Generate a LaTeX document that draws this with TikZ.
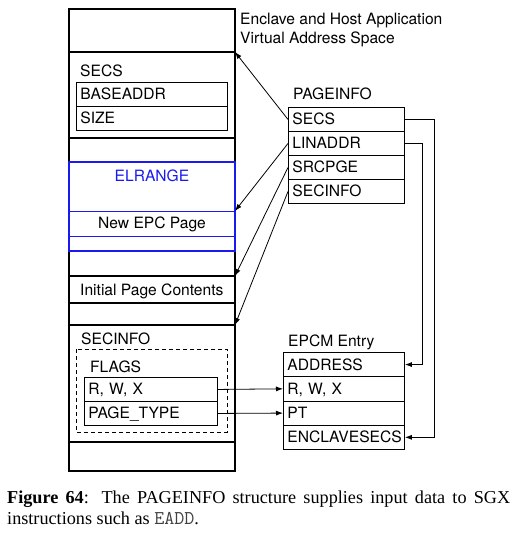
\documentclass[tikz,border=0pt]{standalone}
\usepackage{fontspec}
\setmainfont{Liberation Serif}
\newfontfamily\hv{TeX Gyre Heros}
\usetikzlibrary{arrows.meta}
\definecolor{elblue}{RGB}{25,25,240}
\begin{document}
\begin{tikzpicture}[x=1pt,y=-1pt,
  font=\hv\fontsize{15.6}{18}\selectfont,
  lbl/.style={inner sep=0pt, anchor=base west},
  cell/.style={draw, line width=0.9pt, rectangle, anchor=north west,
    inner xsep=4pt, inner ysep=0pt, text height=11pt, text depth=0pt, align=left},
  col/.style={draw, line width=1.1pt},
  arr/.style={line width=0.8pt, -{Latex[length=7pt,width=5pt]}},
  link/.style={line width=0.8pt}]
\useasboundingbox (0,0) rectangle (515,538);

% left column
\draw[col] (69,9) rectangle (235,471);
\foreach \yy in {52,138,276,303,325,442} \draw[col] (69,\yy) -- (235,\yy);
\coordinate (t1) at (235,52);
\coordinate (t2) at (235,211);
\coordinate (t3) at (235,276);
\coordinate (t4) at (235,325);

\node[lbl] (ttl1) at (240,24) {Enclave and Host Application};
\node[lbl] (ttl2) at (240,43) {Virtual Address Space};

% SECS
\node[lbl] (secsl) at (80,76) {SECS};
\node[cell, text width=143pt, minimum height=24pt] (sBASE) at (76,82) {BASEADDR};
\node[cell, text width=143pt, minimum height=24pt] (sSIZE) at (76,106) {SIZE};

% ELRANGE
\draw[draw=elblue, line width=1.5pt] (69,162) rectangle (235,251);
\draw[draw=elblue, line width=1pt] (69,211) -- (235,211);
\draw[draw=elblue, line width=1pt] (69,236) -- (235,236);
\node[inner sep=0pt, anchor=base, text=elblue] (elr) at (152,181) {ELRANGE};
\node[inner sep=0pt, anchor=base] (nepc) at (152,228) {New EPC Page};

\node[lbl] (ipc) at (80,295) {Initial Page Contents};

% SECINFO
\node[lbl] (secil) at (81,344) {SECINFO};
\draw[line width=0.8pt, dash pattern=on 4pt off 3pt] (76,349) rectangle (227,432);
\node[lbl] (flags) at (90,372) {FLAGS};
\node[cell, text width=125pt, minimum height=24pt] (fRWX) at (84,377) {R, W, X};
\node[cell, text width=125pt, minimum height=24pt] (fPT) at (84,401) {PAGE\_TYPE};

% PAGEINFO
\node[lbl] (pil) at (293,99) {PAGEINFO};
\node[cell, text width=108pt, minimum height=24pt] (pSECS) at (288,107) {SECS};
\node[cell, text width=108pt, minimum height=24pt] (pLIN) at (288,131) {LINADDR};
\node[cell, text width=108pt, minimum height=24pt] (pSRC) at (288,155) {SRCPGE};
\node[cell, text width=108pt, minimum height=24pt] (pSI) at (288,179) {SECINFO};

% EPCM
\node[lbl] (epl) at (288,346) {EPCM Entry};
\node[cell, text width=113pt, minimum height=24.25pt] (eADDR) at (283,352) {ADDRESS};
\node[cell, text width=113pt, minimum height=24.25pt] (eRWX) at (283,376.25) {R, W, X};
\node[cell, text width=113pt, minimum height=24.25pt] (ePT) at (283,400.5) {PT};
\node[cell, text width=113pt, minimum height=24.25pt] (eENC) at (283,424.75) {ENCLAVESECS};

% connectors
\draw[arr] (pSECS.west) -- (t1);
\draw[arr] (pLIN.west) -- (t2);
\draw[arr] (pSRC.west) -- (t3);
\draw[arr] (pSI.west) -- (t4);
\coordinate (rx1) at (434,0);
\coordinate (rx2) at (422,0);
\draw[arr] (pSECS.east) -- (pSECS.east -| rx1) |- (eENC.east);
\draw[arr] (pLIN.east) -- (pLIN.east -| rx2) |- (eADDR.east);
\draw[arr] (fRWX.east) -- (eRWX.west);
\draw[arr] (fPT.east) -- (ePT.west);

% caption
\node[lbl] (cap1) at (7,503) {\rmfamily\fontsize{18.2}{21}\selectfont\makebox[503pt][s]{\textbf{Figure 64}:\hspace{0.7em}The PAGEINFO structure supplies input data to SGX}};
\node[lbl] (cap2) at (7,524) {\rmfamily\fontsize{18.2}{21}\selectfont instructions such as {\ttfamily\fontsize{19.5}{21}\selectfont\color{black!75}EADD}.};
\end{tikzpicture}
\end{document}
